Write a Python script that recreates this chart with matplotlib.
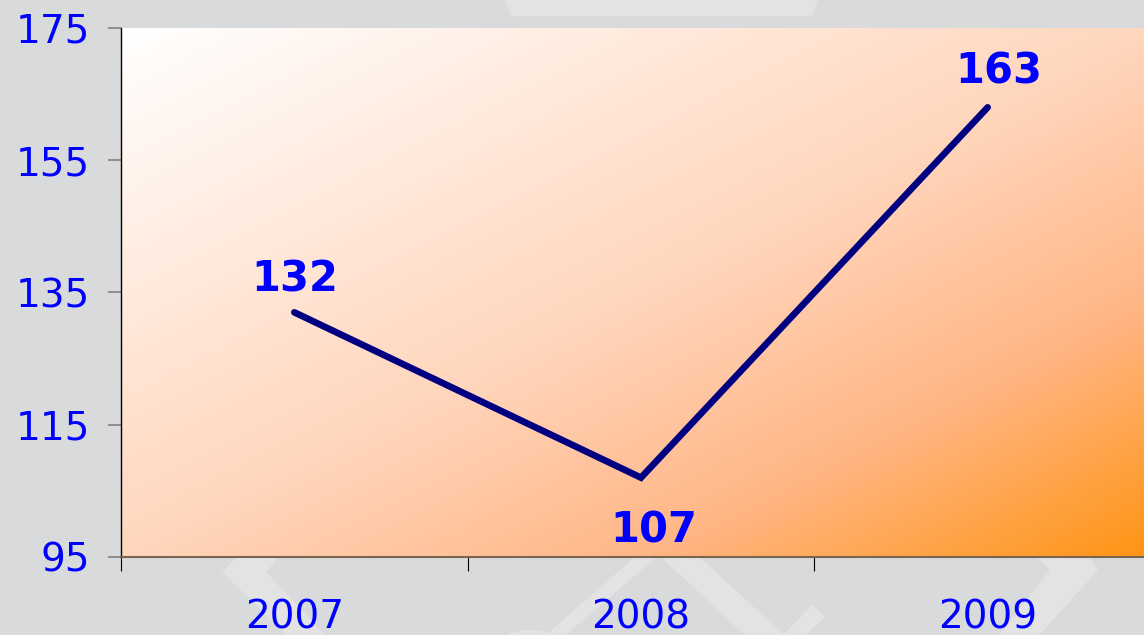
import numpy as np
import matplotlib
matplotlib.use("Agg")
import matplotlib.pyplot as plt
from matplotlib.colors import LinearSegmentedColormap
from matplotlib.patches import Polygon, Circle

years = ["2007", "2008", "2009"]
values = [132, 107, 163]
y_ticks = [95, 115, 135, 155, 175]

W, H = 1144, 635
fig = plt.figure(figsize=(W / 100, H / 100), dpi=100)
fig.patch.set_facecolor("#d9dadc")

def px(pts):
    return [(x / W, 1 - y / H) for x, y in pts]

wm = "#e3e3e4"
shapes = [
    [(505, 0), (818, 0), (812, 16), (511, 16)],
    [(238, 556), (280, 556), (266, 572), (330, 640), (292, 640), (222, 572)],
    [(636, 556), (658, 556), (560, 640), (540, 640)],
    [(660, 556), (698, 556), (790, 640), (750, 640)],
    [(1035, 556), (1088, 556), (1098, 570), (1035, 640), (995, 640), (1050, 570)],
    [(812, 605), (825, 617), (800, 640), (778, 640)],
]
for s in shapes:
    fig.patches.append(Polygon(px(s), closed=True, transform=fig.transFigure,
                               facecolor=wm, edgecolor="none", zorder=-2))
fig.patches.append(Circle((530 / W, 1 - 650 / H), 36 / W, transform=fig.transFigure,
                          facecolor=wm, edgecolor="none", zorder=-2))

left, top, bottom, right = 121, 28, 557, 1161
ax = fig.add_axes([left / W, 1 - bottom / H, (right - left) / W, (bottom - top) / H])
ax.set_xlim(0, 3)
ax.set_ylim(95, 175)
ax.patch.set_alpha(0)

cmap = LinearSegmentedColormap.from_list(
    "g", [(0, "#ffffff"), (0.5, "#ffd6bd"), (0.75, "#ffb686"), (1.0, "#ff9412")])
u = np.linspace(0, 1, 400)
v = np.linspace(0, 1, 300)
U, V = np.meshgrid(u, v)
T = (U + V) / 2
ax.imshow(T, cmap=cmap, vmin=0, vmax=1, extent=[0, 1, 0, 1], transform=ax.transAxes,
          aspect="auto", origin="upper", zorder=0, interpolation="bilinear")

xs = np.arange(len(years)) + 0.5
ax.plot(xs, values, color="#000080", lw=4.8, solid_capstyle="round",
        solid_joinstyle="miter", zorder=3)

offsets = [(0, 21), (13, -65), (11, 24)]
for x, val, (dx, dy) in zip(xs, values, offsets):
    ax.annotate(str(val), (x, val), xytext=(dx, dy), textcoords="offset pixels",
                ha="center", va="baseline", fontsize=30, fontweight="bold",
                color="#0000ff", zorder=4)

ax.set_yticks(y_ticks)
ax.set_yticklabels([str(t) for t in y_ticks])
ax.tick_params(axis="y", direction="out", length=9.5, width=1.2, color="#808080",
               pad=13, labelsize=28, labelcolor="#0000ff")

ax.set_xticks([0, 1, 2, 3])
ax.set_xticklabels([])
ax.set_xticks(xs, minor=True)
ax.set_xticklabels(years, minor=True)
ax.tick_params(axis="x", which="major", direction="out", length=10, width=0.8, color="black")
ax.tick_params(axis="x", which="minor", length=0, pad=30, labelsize=28, labelcolor="#0000ff")

for side in ["top", "right"]:
    ax.spines[side].set_visible(False)
ax.spines["left"].set_color("black")
ax.spines["left"].set_linewidth(1.0)
ax.spines["bottom"].set_color("#7a6450")
ax.spines["bottom"].set_linewidth(1.5)

fig.savefig("out.png", dpi=100, facecolor=fig.get_facecolor())
